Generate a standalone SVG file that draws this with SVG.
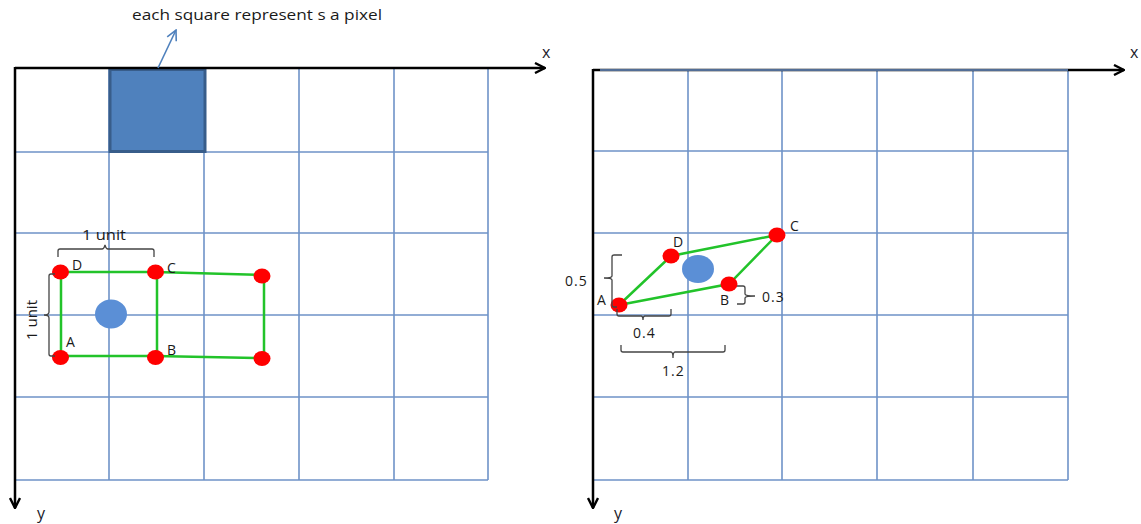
<svg xmlns="http://www.w3.org/2000/svg" width="1141" height="524" viewBox="0 0 1141 524">
<style>
.grid{stroke:#6f93c8;stroke-width:1.6;fill:none}
.axis{stroke:#000;stroke-width:2.5;fill:none}
.edge{stroke:#22c32a;stroke-width:2.5;fill:none}
.pt{fill:#ff0000}
.ctr{fill:#5b8fd6}
.br{stroke:#444;stroke-width:1.3;fill:none}
.t{font-family:"Open Sans","Liberation Sans",sans-serif;font-size:14px;fill:#1a1a1a}
.n{letter-spacing:1px}
.ax{font-family:"Open Sans","Liberation Sans",sans-serif;font-size:16px;fill:#1a1a2a}
</style>
<defs>
<marker id="open" viewBox="0 0 12 12" refX="11" refY="6" markerWidth="12" markerHeight="12" markerUnits="userSpaceOnUse" orient="auto">
<path d="M1,1 L11,6 L1,11" fill="none" stroke="#000" stroke-width="2.4"/>
</marker>
<marker id="openblue" viewBox="0 0 12 12" refX="11" refY="6" markerWidth="12" markerHeight="12" markerUnits="userSpaceOnUse" orient="auto">
<path d="M1,1 L11,6 L1,11" fill="none" stroke="#4f81bd" stroke-width="1.6"/>
</marker>
</defs>
<rect width="1141" height="524" fill="#fff"/>

<g id="left-grid">
<path class="grid" d="M15,152H488M15,233H488M15,315H488M15,397H488M15,480H488M109,68V480M204,68V480M299,68V480M394,68V480M488,68V480"/>
</g>
<g id="pixel">
<rect x="110" y="69.5" width="95" height="82" fill="#4f81bd" stroke="#385d8a" stroke-width="3"/>
</g>
<g id="right-grid">
<path class="grid" d="M593,70H1068M593,151H1068M593,233H1068M593,315H1068M593,397H1068M593,480H1068M688,70V480M782,70V480M877,70V480M973,70V480M1068,70V480"/>
</g>

<g id="connectors">
<path class="axis" d="M15,68H545" marker-end="url(#open)"/>
<path class="axis" d="M15,67V508" marker-end="url(#open)"/>
<path class="axis" d="M593,70H1124" marker-end="url(#open)"/>
<path class="axis" d="M593,69V508" marker-end="url(#open)"/>
<path class="grid" d="M600,70H1068"/>
<path d="M158,68L176,30" stroke="#4f81bd" stroke-width="1.6" fill="none" marker-end="url(#openblue)"/>
<path class="edge" d="M60,272H155L262,275M61,272V357M157,273V357M264,275V358M60,356H155L262,358"/>
<path class="edge" d="M619,305L729,284L777,235L671,256Z"/>
</g>

<g id="labels-axes">
<text class="ax" x="542" y="58">x</text>
<text class="ax" x="1130" y="58">x</text>
<text class="ax" x="37" y="519">y</text>
<text class="ax" x="614" y="519">y</text>
<text class="t" x="132" y="20" textLength="250" lengthAdjust="spacingAndGlyphs">each square represent s a pixel</text>
</g>

<g id="left-shape">
<ellipse class="ctr" cx="111" cy="314" rx="16" ry="14.5"/>
<ellipse class="pt" cx="60.5" cy="272" rx="8.5" ry="7.5"/>
<ellipse class="pt" cx="155.5" cy="272" rx="8.5" ry="7.5"/>
<ellipse class="pt" cx="262" cy="276" rx="8.5" ry="7.5"/>
<ellipse class="pt" cx="60.5" cy="357.5" rx="8.5" ry="7.5"/>
<ellipse class="pt" cx="155.5" cy="357.5" rx="8.5" ry="7.5"/>
<ellipse class="pt" cx="262" cy="358.5" rx="8.5" ry="7.5"/>
<text class="t" x="72" y="270">D</text>
<text class="t" x="167" y="273">C</text>
<text class="t" x="66" y="347">A</text>
<text class="t" x="167" y="355">B</text>
<path class="br" d="M58,257V251Q58,249 60,249H102Q104,249 105,245Q106,249 108,249H152Q154,249 154,251V257"/>
<text class="t" x="104" y="240" text-anchor="middle" textLength="44" lengthAdjust="spacingAndGlyphs">1 unit</text>
<path class="br" d="M55,274H51Q49,274 49,276V312Q49,315 44,315Q49,315 49,318V354Q49,356 51,356H55"/>
<text class="t" transform="translate(37,320) rotate(-90)" text-anchor="middle" textLength="40" lengthAdjust="spacingAndGlyphs">1 unit</text>
</g>

<g id="right-shape">
<ellipse class="ctr" cx="698" cy="269" rx="16" ry="14"/>
<ellipse class="pt" cx="619" cy="305" rx="8.5" ry="7.5"/>
<ellipse class="pt" cx="729" cy="284" rx="8.5" ry="7.5"/>
<ellipse class="pt" cx="777" cy="235" rx="8.5" ry="7.5"/>
<ellipse class="pt" cx="671" cy="256" rx="8.5" ry="7.5"/>
<text class="t" x="790" y="231">C</text>
<text class="t" x="673" y="247">D</text>
<text class="t" x="597" y="305">A</text>
<text class="t" x="720" y="305">B</text>
<path class="br" d="M622,255H614Q612,255 612,257V276Q612,278 604,278Q612,278 612,280V305Q612,307 614,307H617"/>
<text class="t n" x="565" y="286">0.5</text>
<path class="br" d="M617,309V314Q617,316 619,316H641Q643,316 643,320Q643,316 645,316H669Q671,316 671,314V309"/>
<text class="t n" x="633" y="338">0.4</text>
<path class="br" d="M621,345V350Q621,352 623,352H671Q673,352 673,358Q673,352 675,352H723Q725,352 725,350V345"/>
<text class="t n" x="662" y="376">1.2</text>
<path class="br" d="M737,286H743Q745,286 745,288V294Q745,296 755,296Q745,296 745,298V302Q745,304 743,304H737"/>
<text class="t n" x="762" y="302">0.3</text>
</g>
</svg>
